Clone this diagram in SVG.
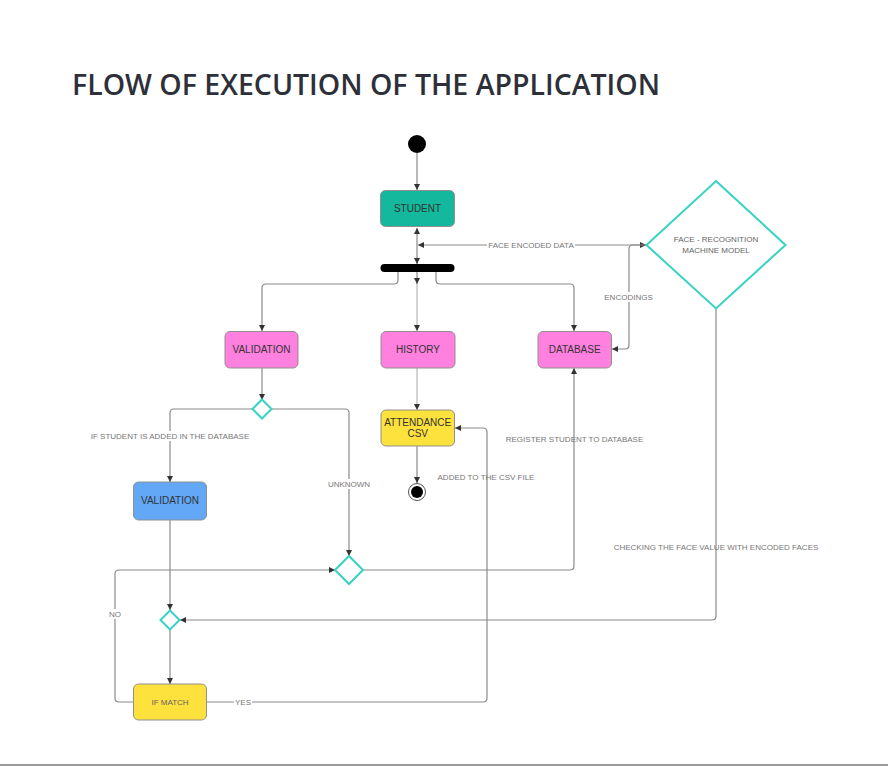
<svg xmlns="http://www.w3.org/2000/svg" width="888" height="766" viewBox="0 0 888 766">
<defs>
<style>
.node{stroke:#8f8f8f;stroke-width:1}
.ntxt{font-family:"Liberation Sans",Arial,sans-serif;font-size:10px;fill:#333;text-anchor:middle}
.dia{fill:#fff;stroke:#35d3c2;stroke-width:2}
.c{fill:none;stroke:#8a8a8a;stroke-width:1.2}
.cl{fill:none;stroke:#b8b8b8;stroke-width:1.2}
.lbl{font-family:"Liberation Sans",Arial,sans-serif;font-size:8px;fill:#777;text-anchor:middle}
.bg{fill:#fff}
</style>
<marker id="ah" viewBox="0 0 10 10" refX="10" refY="5" markerWidth="6" markerHeight="6" markerUnits="userSpaceOnUse" orient="auto-start-reverse">
<path d="M0,0 L10,5 L0,10 z" fill="#333"/>
</marker>
</defs>
<rect width="888" height="766" fill="#fff"/>
<text x="72" y="95" font-family="'Open Sans','Noto Sans',sans-serif" font-weight="600" font-size="28" fill="#2e3039" textLength="588" lengthAdjust="spacingAndGlyphs">FLOW OF EXECUTION OF THE APPLICATION</text>

<g id="connectors">
<path class="c" d="M417,153 V190" marker-end="url(#ah)"/>
<path class="c" d="M417,228 V264" marker-start="url(#ah)" marker-end="url(#ah)"/>
<path class="c" d="M646,245 H418" marker-start="url(#ah)" marker-end="url(#ah)"/>
<path class="c" d="M646,245 H633 Q629,245 629,249 V345 Q629,349 625,349 H612" marker-end="url(#ah)"/>
<path class="c" d="M417,272 V284" marker-end="url(#ah)"/>
<path class="cl" d="M417,284 V331" marker-end="url(#ah)"/>
<path class="c" d="M398,272 V280 Q398,284 394,284 H266 Q262,284 262,288 V331" marker-end="url(#ah)"/>
<path class="c" d="M436,272 V280 Q436,284 440,284 H570 Q574,284 574,288 V331" marker-end="url(#ah)"/>
<path class="c" d="M262,368 V400" marker-end="url(#ah)"/>
<path class="c" d="M252,409 H174 Q170,409 170,413 V482" marker-end="url(#ah)"/>
<path class="c" d="M271,409 H345 Q349,409 349,413 V556" marker-end="url(#ah)"/>
<path class="c" d="M363,570 H570 Q574,570 574,566 V368" marker-end="url(#ah)"/>
<path class="c" d="M716,308 V616 Q716,620 712,620 H180" marker-end="url(#ah)"/>
<path class="c" d="M170,520 V610" marker-end="url(#ah)"/>
<path class="c" d="M170,629 V684" marker-end="url(#ah)"/>
<path class="c" d="M133,702 H119 Q115,702 115,698 V574 Q115,570 119,570 H335" marker-end="url(#ah)"/>
<path class="c" d="M207,702 H483 Q487,702 487,698 V432 Q487,428 483,428 H455" marker-end="url(#ah)"/>
<path class="cl" d="M417,368 V410" marker-end="url(#ah)"/>
<path class="c" d="M417,446 V483" marker-end="url(#ah)"/>

<rect class="bg" x="487" y="240" width="88" height="10"/>
<text class="lbl" x="531" y="248">FACE ENCODED DATA</text>
<rect class="bg" x="603" y="292" width="51" height="10"/>
<text class="lbl" x="628.5" y="300">ENCODINGS</text>
<rect class="bg" x="88" y="431" width="164" height="10"/>
<text class="lbl" x="170" y="439">IF STUDENT IS ADDED IN THE DATABASE</text>
<rect class="bg" x="326" y="479" width="46" height="10"/>
<text class="lbl" x="349" y="487">UNKNOWN</text>
<text class="lbl" x="574.5" y="442">REGISTER STUDENT TO DATABASE</text>
<text class="lbl" x="486" y="480">ADDED TO THE CSV FILE</text>
<text class="lbl" x="716" y="550">CHECKING THE FACE VALUE WITH ENCODED FACES</text>
<rect class="bg" x="107" y="609" width="16" height="10"/>
<text class="lbl" x="115" y="617">NO</text>
<rect class="bg" x="234" y="697" width="18" height="10"/>
<text class="lbl" x="243" y="705">YES</text>
</g>

<g id="start"><circle cx="417" cy="144" r="9" fill="#000"/></g>
<g id="student"><rect class="node" x="380.5" y="190.5" width="74" height="36" rx="5" fill="#13b89d"/><text class="ntxt" x="417.5" y="212">STUDENT</text></g>
<g id="fork"><rect x="380.5" y="264" width="74" height="8" rx="4" fill="#000"/></g>
<g id="face-model"><polygon class="dia" points="716,181 785.5,245 716,308.5 646.5,245"/><text class="lbl" x="716" y="242" style="fill:#666">FACE - RECOGNITION</text><text class="lbl" x="716" y="253" style="fill:#666">MACHINE MODEL</text></g>
<g id="validation1"><rect class="node" x="225" y="331.5" width="73" height="36.5" rx="5" fill="#ff80de"/><text class="ntxt" x="261.5" y="353">VALIDATION</text></g>
<g id="history"><rect class="node" x="381" y="331.5" width="74" height="36.5" rx="5" fill="#ff80de"/><text class="ntxt" x="418" y="353">HISTORY</text></g>
<g id="database"><rect class="node" x="538" y="331.5" width="73.5" height="36.5" rx="5" fill="#ff80de"/><text class="ntxt" x="574.7" y="353">DATABASE</text></g>
<g id="decision1"><polygon class="dia" points="262,399.5 271.5,409 262,418.5 252.5,409"/></g>
<g id="attendance"><rect class="node" x="381" y="410" width="73.5" height="36" rx="5" fill="#fde13d"/><text class="ntxt" x="417.7" y="425.5">ATTENDANCE</text><text class="ntxt" x="417.7" y="437">CSV</text></g>
<g id="end"><circle cx="417" cy="492" r="8.5" fill="#fff" stroke="#555" stroke-width="1"/><circle cx="417" cy="492" r="6" fill="#000"/></g>
<g id="validation2"><rect class="node" x="133.5" y="482" width="73" height="38" rx="5" fill="#62a8f7"/><text class="ntxt" x="170" y="504">VALIDATION</text></g>
<g id="decision3"><polygon class="dia" points="349,556 363,570 349,584 335,570"/></g>
<g id="decision2"><polygon class="dia" points="170,610.5 179.5,620 170,629.5 160.5,620"/></g>
<g id="ifmatch"><rect class="node" x="133.5" y="684" width="73" height="36" rx="5" fill="#fde13d"/><text class="lbl" x="170" y="705" style="fill:#666">IF MATCH</text></g>
<rect x="0" y="764" width="888" height="2" fill="#9a9a9a"/>
</svg>
